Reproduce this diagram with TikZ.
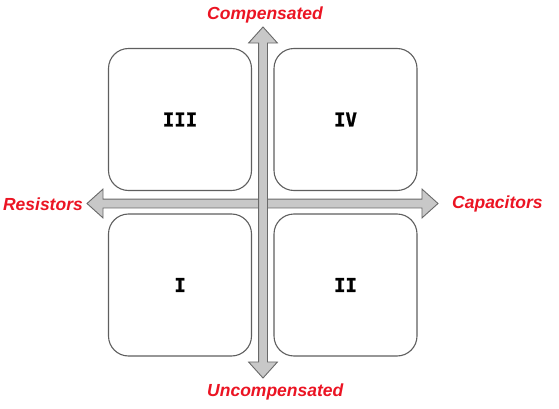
\documentclass[tikz,border=0pt]{standalone}
\usepackage{fontspec}
\setmainfont{Liberation Sans}
\newfontfamily\quadfont{DejaVu Sans Mono}[BoldFont={DejaVu Sans Mono Bold},
    BoldFeatures={FakeBold=1.3}]
\usepackage{tikz}
\usetikzlibrary{shapes.arrows,positioning}
\definecolor{axisfill}{RGB}{200,200,200}
\definecolor{axisline}{RGB}{105,105,105}
\definecolor{boxline}{RGB}{95,95,95}
\definecolor{lblred}{RGB}{235,20,35}

\begin{document}
\begin{tikzpicture}[x=1pt,y=-1pt]
\tikzstyle{quad}=[rectangle, draw=boxline, line width=1.1pt, rounded corners=20pt,
    minimum width=143pt, minimum height=142pt, inner sep=0pt,
    font=\quadfont\bfseries\fontsize{19}{22}\selectfont]
\tikzstyle{axis}=[double arrow, draw=axisline, fill=axisfill, line width=0.9pt,
    inner sep=4pt, minimum width=28pt, double arrow head extend=10pt,
    double arrow tip angle=84, minimum height=351pt]
\tikzstyle{lbl}=[text=lblred, inner sep=0pt,
    font=\bfseries\itshape\fontsize{17.5}{20}\selectfont]

\useasboundingbox (0,0) rectangle (559,409);

    \node[axis] (haxis) at (262.5,203.5) {};
    \node[axis, rotate=90] (vaxis) at (263,202.5) {};

    \node[quad, fill=white] (q3) at (180,119.5) {III};
    \node[quad, fill=white] (q4) at (345.5,119.5) {IV};
    \node[quad, fill=white] (q1) at (180,285) {I};
    \node[quad, fill=white] (q2) at (345.5,285) {II};

    \node[lbl, anchor=base west] (comp) at (207,20) {Compensated};
    \node[lbl, anchor=base west] (uncomp) at (207,396) {Uncompensated};
    \node[lbl, anchor=east] (res) at (83,204) {Resistors};
    \node[lbl, anchor=west] (cap) at (452,204) {Capacitors};
\end{tikzpicture}
\end{document}
